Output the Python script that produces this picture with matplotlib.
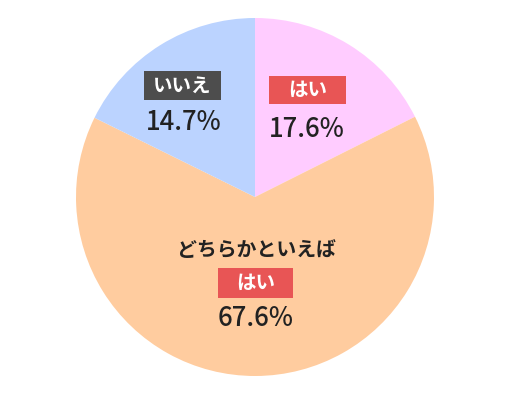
import matplotlib
matplotlib.use("Agg")
import matplotlib.pyplot as plt
from matplotlib.patches import Rectangle

plt.rcParams['font.family'] = ['Noto Sans CJK JP', 'DejaVu Sans']

categories = ["はい", "どちらかといえばはい", "いいえ"]
# wedge sizes as drawn in the picture (the pie's angles)
wedge_sizes = [17.6, 64.7, 17.7]
# percentages as printed on the chart
percent_labels = [17.6, 67.6, 14.7]
colors = ["#FFCCFF", "#FFCC9F", "#BBD3FF"]

W, H = 512, 400
fig = plt.figure(figsize=(W / 100, H / 100), dpi=100)
ax = fig.add_axes([0, 0, 1, 1])

ax.pie(wedge_sizes, colors=colors, startangle=90, counterclock=False,
       center=(255, H - 197), radius=179, frame=True,
       wedgeprops=dict(linewidth=0))
ax.set_xlim(0, W)
ax.set_ylim(0, H)
ax.set_aspect('equal')
ax.axis('off')

def box(x0, y0, x1, y1, color, text):
    ax.add_patch(Rectangle((x0, H - y1), x1 - x0, y1 - y0, facecolor=color,
                           edgecolor='none', zorder=3))
    ax.text((x0 + x1) / 2, H - (y0 + y1) / 2 - 0.5, text, ha='center', va='center',
            color='white', fontsize=14, fontweight='bold', zorder=4)

pct_kw = dict(ha='center', va='baseline', fontsize=18.5, fontweight='medium',
              color='#222222', zorder=4)

# いいえ
box(144, 71, 221, 100, "#4D4D4D", categories[2])
ax.text(184, H - 130.5, f"{percent_labels[2]}%", **pct_kw)
# はい
box(269, 76, 346, 104, "#E85555", categories[0])
ax.text(306.5, H - 137, f"{percent_labels[0]}%", **pct_kw)
# どちらかといえばはい
ax.text(256, H - 249, categories[1][:-2], ha='center', va='center',
        fontsize=14.3, fontweight='bold', color='#222222', zorder=4)
box(218, 268, 293, 298, "#E85555", categories[1][-2:])
ax.text(256, H - 326.5, f"{percent_labels[1]}%", **pct_kw)

fig.savefig("out.png", dpi=100)
